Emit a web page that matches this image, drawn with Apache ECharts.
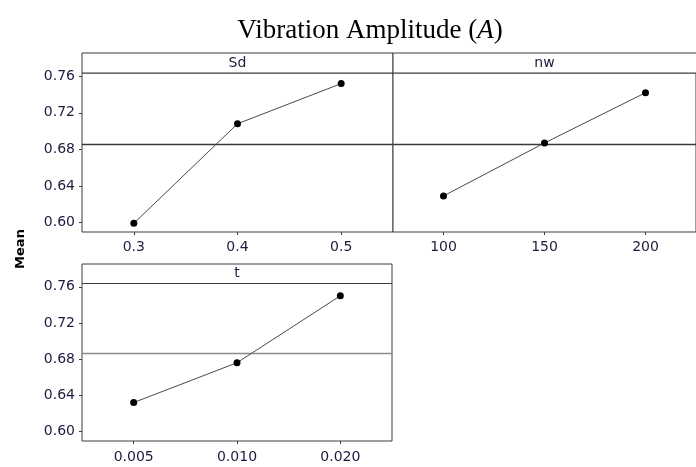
<!DOCTYPE html>
<html>
<head>
<meta charset="utf-8">
<script src="https://cdn.jsdelivr.net/npm/echarts@6/dist/echarts.min.js"></script>
<style>
  html, body { margin: 0; padding: 0; background: #fff; }
  #chart { width: 696px; height: 467px; }
</style>
</head>
<body>
<div id="chart"></div>
<script>
// Main effects plot for vibration amplitude: mean response at each factor level
const sdLevels = ['0.3', '0.4', '0.5'];
const sdMeans = [0.599, 0.708, 0.752];

const nwLevels = ['100', '150', '200'];
const nwMeans = [0.629, 0.687, 0.742];

const tLevels = ['0.005', '0.010', '0.020'];
const tMeans = [0.632, 0.676, 0.750];

const yTicks = [0.60, 0.64, 0.68, 0.72, 0.76];
const panelNames = ['Sd', 'nw', 't'];

// Grand mean of all level means (the horizontal reference line)
const allMeans = sdMeans.concat(nwMeans, tMeans);
const grandMean = allMeans.reduce((a, b) => a + b, 0) / allMeans.length;

const textColor = '#1c1c3e';
const frameColor = '#3c3c3c';
const font = 'DejaVu Sans';

// panel geometry: plot area below a header strip
const panels = [
  { left: 82, top: 73, width: 311, height: 159, headerTop: 53, labelMargin: 8, showY: true, meanColor: '#3a3a3a' },
  { left: 393, top: 73, width: 311, height: 159, headerTop: 53, labelMargin: 8, showY: false, meanColor: '#3a3a3a' },
  { left: 82, top: 283.5, width: 310, height: 157.5, headerTop: 264, labelMargin: 9, showY: true, meanColor: '#8a8a8a' }
];
const levels = [sdLevels, nwLevels, tLevels];
const means = [sdMeans, nwMeans, tMeans];

const chart = echarts.init(document.getElementById('chart'), null, { renderer: 'canvas' });

const grids = [], xAxes = [], yAxes = [], series = [], graphics = [];

panels.forEach((p, i) => {
  grids.push({
    left: p.left, top: p.top, width: p.width, height: p.height,
    show: true, borderColor: frameColor, borderWidth: 1, backgroundColor: '#fff'
  });
  xAxes.push({
    type: 'category', gridIndex: i, data: levels[i], boundaryGap: true,
    axisLine: { show: false },
    axisTick: { show: true, alignWithLabel: true, length: 3, lineStyle: { color: frameColor } },
    axisLabel: { color: textColor, fontFamily: font, fontSize: 14, margin: p.labelMargin },
    splitLine: { show: false }
  });
  yAxes.push({
    type: 'value', gridIndex: i, min: 0.5895, max: 0.7636,
    axisLine: { show: false },
    axisTick: { show: p.showY, length: 3, customValues: yTicks, lineStyle: { color: frameColor } },
    axisLabel: {
      show: p.showY, customValues: yTicks, color: textColor, fontFamily: font, fontSize: 14, margin: 7,
      formatter: v => v.toFixed(2)
    },
    splitLine: { show: false }
  });
  series.push({
    type: 'line', xAxisIndex: i, yAxisIndex: i, data: means[i],
    symbol: 'circle', symbolSize: 7,
    itemStyle: { color: '#000' },
    lineStyle: { color: '#4a4a4a', width: 1 },
    z: 5,
    markLine: {
      silent: true, symbol: 'none', precision: 6, label: { show: false },
      lineStyle: { color: p.meanColor, width: 1.3, type: 'solid' },
      data: [{ yAxis: grandMean }]
    }
  });
  // header strip with factor name
  graphics.push({
    type: 'rect',
    shape: { x: p.left, y: p.headerTop, width: p.width, height: p.top - p.headerTop },
    style: { fill: '#fff', stroke: frameColor, lineWidth: 1 },
    z: 1
  });
  graphics.push({
    type: 'text',
    x: p.left + p.width / 2 - (i === 1 ? 4 : 0), y: (p.headerTop + p.top) / 2,
    style: { text: panelNames[i], fill: textColor, font: '14px "' + font + '"', textAlign: 'center', textVerticalAlign: 'middle' },
    z: 2
  });
});

graphics.push({
  type: 'text', x: 21, y: 249, rotation: Math.PI / 2,
  style: { text: 'Mean', fill: '#000', font: 'bold 13px "' + font + '"', textAlign: 'center', textVerticalAlign: 'middle' }
});

chart.setOption({
  animation: false,
  backgroundColor: '#fff',
  title: {
    left: 365, top: 12, textAlign: 'center',
    text: '{n|Vibration Amplitude (}{i|A}{n|)}',
    textStyle: {
      rich: {
        n: { fontFamily: 'Liberation Serif', fontSize: 27, fontWeight: 'normal', color: '#000' },
        i: { fontFamily: 'Liberation Serif', fontSize: 27, fontWeight: 'normal', fontStyle: 'italic', color: '#000' }
      }
    }
  },
  grid: grids,
  xAxis: xAxes,
  yAxis: yAxes,
  series: series,
  graphic: graphics
});
</script>
</body>
</html>
